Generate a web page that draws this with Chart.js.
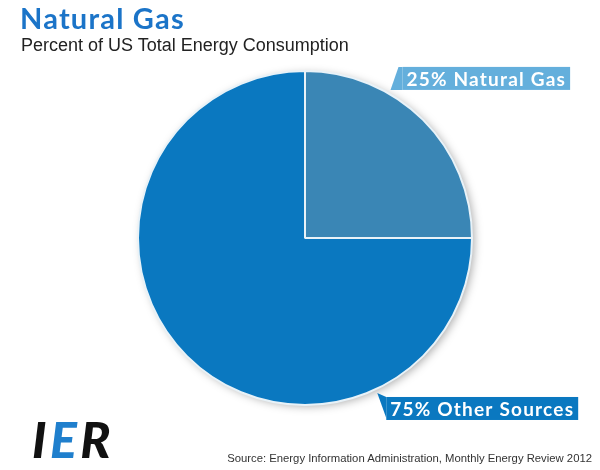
<!DOCTYPE html>
<html>
<head>
<meta charset="utf-8">
<script src="https://cdn.jsdelivr.net/npm/chart.js@4/dist/chart.umd.min.js"></script>
<style>
    html, body { margin: 0; padding: 0; background: #fff; }
    #wrap { position: relative; width: 600px; height: 470px; overflow: hidden; }
    #chart { position: absolute; left: 0; top: 0; }
    .title { position: absolute; left: 20px; top: 0px; font: 700 29px "Lato", sans-serif; color: #1b74c8; letter-spacing: 1.2px; }
    .subtitle { position: absolute; left: 21px; top: 35px; font: 18px "Liberation Sans", Arial, sans-serif; color: #222; }
    .source { position: absolute; right: 8px; top: 452px; font: 11.3px "Liberation Sans", Arial, sans-serif; color: #333; }
    .logo { position: absolute; left: 32px; top: 409px; font: italic 900 50px "Lato", sans-serif; color: #111; letter-spacing: 3.5px; }
    .logo span { color: #1f7fcd; }
</style>
</head>
<body>
<div id="wrap">
    <canvas id="chart" width="600" height="470"></canvas>
    <div class="title">Natural Gas</div>
    <div class="subtitle">Percent of US Total Energy Consumption</div>
    <div class="logo">I<span>E</span>R</div>
    <div class="source">Source: Energy Information Administration, Monthly Energy Review 2012</div>
</div>
<script>
// ===================== DATA =====================
const categories = ['Natural Gas', 'Other Sources'];
const shares = [25, 75];
const labelTexts = ['25% Natural Gas', '75% Other Sources'];
const sliceColors = ['#3a86b5', '#0a78c0'];
const calloutColors = ['#64afdc', '#0a78c0'];

// Callout plugin: draws the boxed labels pointing at each slice
const calloutPlugin = {
    id: 'callouts',
    beforeDatasetsDraw(chart) {
        // soft shadow behind the pie
        const arc = chart.getDatasetMeta(0).data[0];
        const ctx = chart.ctx;
        ctx.save();
        ctx.shadowColor = 'rgba(0,0,0,0.35)';
        ctx.shadowBlur = 10;
        ctx.shadowOffsetX = 3;
        ctx.shadowOffsetY = 2;
        ctx.fillStyle = '#fff';
        ctx.beginPath();
        ctx.arc(arc.x, arc.y, arc.outerRadius - 1, 0, Math.PI * 2);
        ctx.fill();
        ctx.restore();
    },
    afterDatasetsDraw(chart) {
        const ctx = chart.ctx;
        const arcs = chart.getDatasetMeta(0).data;
        // angle of the pointer tip for each slice (degrees, 0 = 3 o'clock)
        const tipAngles = [-60, 65];
        ctx.save();
        ctx.font = '700 19px "Lato", sans-serif';
        ctx.letterSpacing = '1.2px';
        ctx.textBaseline = 'middle';
        arcs.forEach(function(arc, i) {
            const a = tipAngles[i] * Math.PI / 180;
            const r = arc.outerRadius + 4;
            const tx = arc.x + Math.cos(a) * r;
            const ty = arc.y + Math.sin(a) * r;
            const text = labelTexts[i];
            const w = ctx.measureText(text).width + 8;
            const h = 23;
            let left, top;
            if (i === 0) {
                left = tx + 12;
                top = ty - h;
            } else {
                left = tx + 9;
                top = ty + 4;
            }
            ctx.fillStyle = calloutColors[i];
            ctx.beginPath();
            if (i === 0) {
                ctx.moveTo(tx, ty);
                ctx.lineTo(left - 4, top);
                ctx.lineTo(left, top);
                ctx.lineTo(left, top + h);
                ctx.closePath();
            } else {
                ctx.moveTo(tx, ty);
                ctx.lineTo(left, top);
                ctx.lineTo(left, top + h - 2);
                ctx.closePath();
            }
            ctx.fill();
            ctx.fillRect(left, top, w, h);
            ctx.fillStyle = '#fff';
            ctx.fillText(text, left + 4, top + h / 2 + 1);
        });
        ctx.restore();
    }
};

const ctx = document.getElementById('chart').getContext('2d');
const pieChart = new Chart(ctx, {
    type: 'pie',
    data: {
        labels: categories,
        datasets: [{
            data: shares,
            backgroundColor: sliceColors,
            borderColor: '#e8f2f8',
            borderWidth: 2
        }]
    },
    options: {
        responsive: false,
        animation: false,
        layout: {
            padding: { left: 137, right: 127, top: 70, bottom: 64 }
        },
        plugins: {
            legend: { display: false },
            tooltip: { enabled: false },
            title: { display: false }
        }
    },
    plugins: [calloutPlugin]
});
</script>
</body>
</html>
